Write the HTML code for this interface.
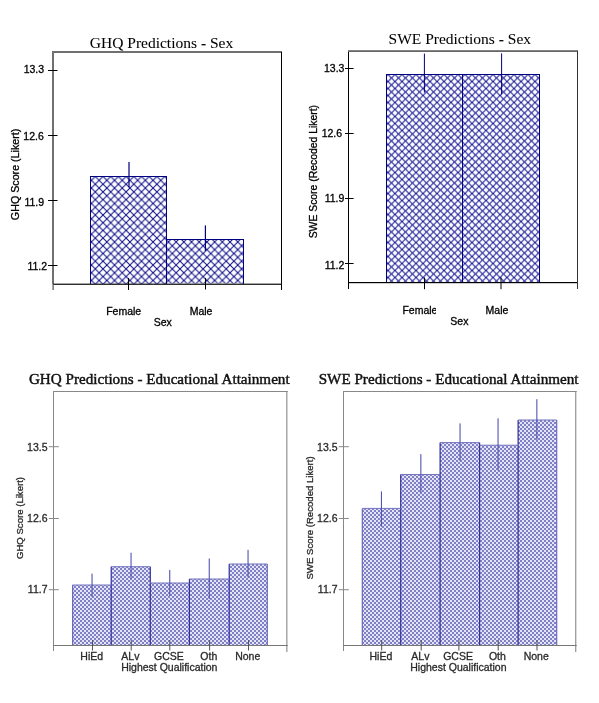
<!DOCTYPE html>
<html><head><meta charset="utf-8"><title>Predictions</title>
<style>html,body{margin:0;padding:0;background:#fff;width:599px;height:703px;overflow:hidden}svg{display:block;will-change:transform}</style>
</head><body><svg width="599" height="703" viewBox="0 0 599 703">
<defs>
 <pattern id="hTL" patternUnits="userSpaceOnUse" width="7.7" height="7.7" patternTransform="translate(103,176.5)">
  <path d="M-1,-1 L8.7,8.7 M8.7,-1 L-1,8.7" stroke="#10108a" stroke-width="1.05" fill="none"/>
 </pattern>
 <pattern id="hTR" patternUnits="userSpaceOnUse" width="7" height="7" patternTransform="translate(395,74.5)">
  <path d="M-1,-1 L8,8 M8,-1 L-1,8" stroke="#1c1c96" stroke-width="1.05" fill="none"/>
 </pattern>
 <pattern id="chk" patternUnits="userSpaceOnUse" width="4" height="4">
  <rect x="0" y="0" width="4" height="4" fill="#e4e4f4"/>
  <rect x="0" y="0" width="2" height="2" fill="#8080c6"/>
  <rect x="2" y="2" width="2" height="2" fill="#8080c6"/>
 </pattern>
</defs><rect width="599" height="703" fill="#fff"/><text x="161.5" y="48" font-family="&quot;Liberation Serif&quot;, serif" font-size="15.5" text-anchor="middle" fill="#000" stroke="#000" stroke-width="0.05" >GHQ Predictions - Sex</text><rect x="90.5" y="176.5" width="76" height="107.5" fill="url(#hTL)"/><rect x="166.5" y="239.5" width="77" height="44" fill="url(#hTL)"/><rect x="90" y="176" width="77" height="1" fill="#000080"/><rect x="90" y="176" width="1" height="108" fill="#000080"/><rect x="166" y="176" width="1" height="108" fill="#000080"/><rect x="166" y="239" width="78" height="1" fill="#000080"/><rect x="243" y="239" width="1" height="45" fill="#000080"/><rect x="128.4" y="162" width="1.2" height="25.4" fill="#000080"/><rect x="204.8" y="225.4" width="1.2" height="25.5" fill="#000080"/><rect x="52" y="51" width="2" height="233" fill="#707070"/><rect x="52" y="51" width="230" height="2" fill="#707070"/><rect x="281" y="52" width="1" height="238" fill="#000"/><rect x="53" y="283.6" width="229" height="1.3" fill="#1a1a1a"/><rect x="52.5" y="284" width="1.2" height="6" fill="#555"/><rect x="128" y="278" width="1" height="12" fill="#000"/><rect x="205" y="278" width="1" height="11.5" fill="#000"/><rect x="48" y="70" width="9.5" height="1" fill="#000"/><rect x="48" y="135" width="9.5" height="1" fill="#000"/><rect x="48" y="200" width="9.5" height="1" fill="#000"/><rect x="48" y="265" width="9.5" height="1" fill="#000"/><text x="44.1" y="73" font-family="&quot;Liberation Sans&quot;, sans-serif" font-size="10.5" text-anchor="end" fill="#000" stroke="#000" stroke-width="0.3" >13.3</text><text x="43.8" y="140" font-family="&quot;Liberation Sans&quot;, sans-serif" font-size="10.5" text-anchor="end" fill="#000" stroke="#000" stroke-width="0.3" >12.6</text><text x="44.1" y="206" font-family="&quot;Liberation Sans&quot;, sans-serif" font-size="10.5" text-anchor="end" fill="#000" stroke="#000" stroke-width="0.3" >11.9</text><text x="47.1" y="270" font-family="&quot;Liberation Sans&quot;, sans-serif" font-size="10.5" text-anchor="end" fill="#000" stroke="#000" stroke-width="0.3" >11.2</text><text x="0" y="0" font-family="&quot;Liberation Sans&quot;, sans-serif" font-size="10.7" text-anchor="middle" fill="#000" stroke="#000" stroke-width="0.3" transform="translate(19,174.4) rotate(-90)">GHQ Score (Likert)</text><text x="123.7" y="314.7" font-family="&quot;Liberation Sans&quot;, sans-serif" font-size="10.5" text-anchor="middle" fill="#000" stroke="#000" stroke-width="0.3" >Female</text><text x="201.1" y="315" font-family="&quot;Liberation Sans&quot;, sans-serif" font-size="10.5" text-anchor="middle" fill="#000" stroke="#000" stroke-width="0.3" >Male</text><text x="162.7" y="326.3" font-family="&quot;Liberation Sans&quot;, sans-serif" font-size="10.5" text-anchor="middle" fill="#000" stroke="#000" stroke-width="0.3" >Sex</text><text x="459.8" y="44" font-family="&quot;Liberation Serif&quot;, serif" font-size="15.5" text-anchor="middle" fill="#000" stroke="#000" stroke-width="0.05" >SWE Predictions - Sex</text><rect x="386.5" y="74.5" width="76" height="207.5" fill="url(#hTR)"/><rect x="462.5" y="74.5" width="76.5" height="207.5" fill="url(#hTR)"/><rect x="386" y="74" width="153" height="1" fill="#000080"/><rect x="386" y="74" width="1" height="208" fill="#000080"/><rect x="462" y="74" width="1" height="208" fill="#000080"/><rect x="539" y="74" width="1" height="208" fill="#000080"/><rect x="423.9" y="53.6" width="1" height="39" fill="#000080"/><rect x="501.1" y="53.4" width="1" height="41" fill="#000080"/><rect x="348" y="51" width="1" height="238" fill="#000"/><rect x="348" y="50.2" width="230" height="1.8" fill="#666"/><rect x="577" y="51" width="1" height="232" fill="#333"/><rect x="348" y="282" width="230" height="1.2" fill="#000"/><rect x="577" y="282" width="1" height="7" fill="#333"/><rect x="424" y="277.5" width="1" height="11.7" fill="#000"/><rect x="500.5" y="277.5" width="1" height="11.7" fill="#000"/><rect x="345" y="68" width="8.6" height="1" fill="#000"/><rect x="345" y="133" width="8.6" height="1" fill="#000"/><rect x="345" y="198" width="8.6" height="1" fill="#000"/><rect x="345" y="263" width="8.6" height="1" fill="#000"/><text x="344.4" y="72" font-family="&quot;Liberation Sans&quot;, sans-serif" font-size="10.5" text-anchor="end" fill="#000" stroke="#000" stroke-width="0.3" >13.3</text><text x="342.1" y="137" font-family="&quot;Liberation Sans&quot;, sans-serif" font-size="10.5" text-anchor="end" fill="#000" stroke="#000" stroke-width="0.3" >12.6</text><text x="344.4" y="202" font-family="&quot;Liberation Sans&quot;, sans-serif" font-size="10.5" text-anchor="end" fill="#000" stroke="#000" stroke-width="0.3" >11.9</text><text x="344.4" y="269" font-family="&quot;Liberation Sans&quot;, sans-serif" font-size="10.5" text-anchor="end" fill="#000" stroke="#000" stroke-width="0.3" >11.2</text><text x="0" y="0" font-family="&quot;Liberation Sans&quot;, sans-serif" font-size="10.4" text-anchor="middle" fill="#000" stroke="#000" stroke-width="0.3" transform="translate(316.5,171.65) rotate(-90)">SWE Score (Recoded Likert)</text><clipPath id="cF"><rect x="395" y="300" width="41" height="20"/></clipPath><text x="419.9" y="313.9" font-family="&quot;Liberation Sans&quot;, sans-serif" font-size="10.5" text-anchor="middle" fill="#000" stroke="#000" stroke-width="0.3" clip-path="url(#cF)">Female</text><text x="497" y="314" font-family="&quot;Liberation Sans&quot;, sans-serif" font-size="10.5" text-anchor="middle" fill="#000" stroke="#000" stroke-width="0.3" >Male</text><text x="459.4" y="324.8" font-family="&quot;Liberation Sans&quot;, sans-serif" font-size="10.5" text-anchor="middle" fill="#000" stroke="#000" stroke-width="0.3" >Sex</text><text x="159.3" y="383.5" font-family="&quot;Liberation Serif&quot;, serif" font-size="15.15" text-anchor="middle" fill="#111" stroke="#111" stroke-width="0.45" >GHQ Predictions - Educational Attainment</text><rect x="72.5" y="585" width="38.6" height="60.5" fill="url(#chk)"/><rect x="111.1" y="566.7" width="39.1" height="78.8" fill="url(#chk)"/><rect x="150.2" y="583" width="39.1" height="62.5" fill="url(#chk)"/><rect x="189.3" y="579" width="39.8" height="66.5" fill="url(#chk)"/><rect x="229.1" y="564" width="38.1" height="81.5" fill="url(#chk)"/><rect x="72" y="585" width="1.2" height="60.5" fill="#6a6abc"/><rect x="110.6" y="566.7" width="1.2" height="78.8" fill="#30309e"/><rect x="149.7" y="566.7" width="1.2" height="78.8" fill="#30309e"/><rect x="188.8" y="579" width="1.2" height="66.5" fill="#30309e"/><rect x="228.6" y="564" width="1.2" height="81.5" fill="#30309e"/><rect x="266.7" y="564" width="1.2" height="81.5" fill="#6a6abc"/><rect x="72.5" y="584.5" width="38.6" height="1" fill="#7474c0"/><rect x="111.1" y="566.2" width="39.1" height="1" fill="#7474c0"/><rect x="150.2" y="582.5" width="39.1" height="1" fill="#7474c0"/><rect x="189.3" y="578.5" width="39.8" height="1" fill="#7474c0"/><rect x="229.1" y="563.5" width="38.1" height="1" fill="#7474c0"/><rect x="91.5" y="573.6" width="1.1" height="23.4" fill="#5454b4"/><rect x="130.5" y="552.7" width="1.1" height="26" fill="#5454b4"/><rect x="169.2" y="570" width="1.1" height="26" fill="#5454b4"/><rect x="208.7" y="558.5" width="1.1" height="40.5" fill="#5454b4"/><rect x="247.5" y="549.8" width="1.1" height="27.6" fill="#5454b4"/><rect x="53" y="391" width="234.8" height="1" fill="#888"/><rect x="53" y="391" width="1" height="260" fill="#888"/><rect x="286.3" y="391" width="1.1" height="261" fill="#888"/><rect x="53" y="645" width="234.8" height="1" fill="#777"/><rect x="92" y="640" width="1" height="10.5" fill="#555"/><rect x="130.7" y="640" width="1" height="10.5" fill="#555"/><rect x="169.3" y="640" width="1" height="10.5" fill="#555"/><rect x="209.1" y="640" width="1" height="10.5" fill="#555"/><rect x="248" y="640" width="1" height="10.5" fill="#555"/><rect x="48.8" y="446.2" width="10" height="1" fill="#888"/><rect x="48.8" y="518" width="10" height="1" fill="#888"/><rect x="48.8" y="589.2" width="10" height="1" fill="#888"/><text x="47.5" y="450.5" font-family="&quot;Liberation Sans&quot;, sans-serif" font-size="10.5" text-anchor="end" fill="#2a2a2a" stroke="#2a2a2a" stroke-width="0.3" >13.5</text><text x="47.5" y="522.1" font-family="&quot;Liberation Sans&quot;, sans-serif" font-size="10.5" text-anchor="end" fill="#2a2a2a" stroke="#2a2a2a" stroke-width="0.3" >12.6</text><text x="47.5" y="593.4" font-family="&quot;Liberation Sans&quot;, sans-serif" font-size="10.5" text-anchor="end" fill="#2a2a2a" stroke="#2a2a2a" stroke-width="0.3" >11.7</text><text x="0" y="0" font-family="&quot;Liberation Sans&quot;, sans-serif" font-size="9.6" text-anchor="middle" fill="#2a2a2a" stroke="#2a2a2a" stroke-width="0.3" transform="translate(23.4,518) rotate(-90)">GHQ Score (Likert)</text><text x="91.7" y="659.7" font-family="&quot;Liberation Sans&quot;, sans-serif" font-size="10.5" text-anchor="middle" fill="#2a2a2a" stroke="#2a2a2a" stroke-width="0.3" >HiEd</text><text x="130.4" y="659.7" font-family="&quot;Liberation Sans&quot;, sans-serif" font-size="10.5" text-anchor="middle" fill="#2a2a2a" stroke="#2a2a2a" stroke-width="0.3" >ALv</text><text x="169" y="659.7" font-family="&quot;Liberation Sans&quot;, sans-serif" font-size="10.5" text-anchor="middle" fill="#2a2a2a" stroke="#2a2a2a" stroke-width="0.3" >GCSE</text><text x="208.8" y="659.7" font-family="&quot;Liberation Sans&quot;, sans-serif" font-size="10.5" text-anchor="middle" fill="#2a2a2a" stroke="#2a2a2a" stroke-width="0.3" >Oth</text><text x="247.7" y="659.7" font-family="&quot;Liberation Sans&quot;, sans-serif" font-size="10.5" text-anchor="middle" fill="#2a2a2a" stroke="#2a2a2a" stroke-width="0.3" >None</text><text x="169.3" y="671" font-family="&quot;Liberation Sans&quot;, sans-serif" font-size="10.5" text-anchor="middle" fill="#2a2a2a" stroke="#2a2a2a" stroke-width="0.3" >Highest Qualification</text><text x="448.65" y="383.5" font-family="&quot;Liberation Serif&quot;, serif" font-size="15.15" text-anchor="middle" fill="#111" stroke="#111" stroke-width="0.45" >SWE Predictions - Educational Attainment</text><rect x="362.2" y="508.4" width="38.4" height="137.1" fill="url(#chk)"/><rect x="400.6" y="474.5" width="39.4" height="171" fill="url(#chk)"/><rect x="440" y="442.6" width="39.5" height="202.9" fill="url(#chk)"/><rect x="479.5" y="445.2" width="38.5" height="200.3" fill="url(#chk)"/><rect x="518" y="420" width="38.6" height="225.5" fill="url(#chk)"/><rect x="361.7" y="508.4" width="1.2" height="137.1" fill="#6a6abc"/><rect x="400.1" y="474.5" width="1.2" height="171" fill="#30309e"/><rect x="439.5" y="442.6" width="1.2" height="202.9" fill="#30309e"/><rect x="479" y="442.6" width="1.2" height="202.9" fill="#30309e"/><rect x="517.5" y="420" width="1.2" height="225.5" fill="#30309e"/><rect x="556.1" y="420" width="1.2" height="225.5" fill="#6a6abc"/><rect x="362.2" y="507.9" width="38.4" height="1" fill="#7474c0"/><rect x="400.6" y="474" width="39.4" height="1" fill="#7474c0"/><rect x="440" y="442.1" width="39.5" height="1" fill="#7474c0"/><rect x="479.5" y="444.7" width="38.5" height="1" fill="#7474c0"/><rect x="518" y="419.5" width="38.6" height="1" fill="#7474c0"/><rect x="380.9" y="491.4" width="1.1" height="35.3" fill="#5454b4"/><rect x="420.3" y="454.1" width="1.1" height="38.9" fill="#5454b4"/><rect x="459.5" y="423.4" width="1.1" height="37.6" fill="#5454b4"/><rect x="497.5" y="418.3" width="1.1" height="52.3" fill="#5454b4"/><rect x="536.3" y="399.2" width="1.1" height="40.6" fill="#5454b4"/><rect x="343" y="391" width="233.7" height="1" fill="#888"/><rect x="343" y="391" width="1" height="260" fill="#888"/><rect x="575.2" y="391" width="1.1" height="261" fill="#888"/><rect x="343" y="645" width="233.7" height="1" fill="#777"/><rect x="381.2" y="640" width="1" height="10.5" fill="#555"/><rect x="420.7" y="640" width="1" height="10.5" fill="#555"/><rect x="458.4" y="640" width="1" height="10.5" fill="#555"/><rect x="497.7" y="640" width="1" height="10.5" fill="#555"/><rect x="536.5" y="640" width="1" height="10.5" fill="#555"/><rect x="338.8" y="446.2" width="10" height="1" fill="#888"/><rect x="338.8" y="518" width="10" height="1" fill="#888"/><rect x="338.8" y="589.2" width="10" height="1" fill="#888"/><text x="337.5" y="450.5" font-family="&quot;Liberation Sans&quot;, sans-serif" font-size="10.5" text-anchor="end" fill="#2a2a2a" stroke="#2a2a2a" stroke-width="0.3" >13.5</text><text x="337.5" y="522.1" font-family="&quot;Liberation Sans&quot;, sans-serif" font-size="10.5" text-anchor="end" fill="#2a2a2a" stroke="#2a2a2a" stroke-width="0.3" >12.6</text><text x="337.5" y="593.4" font-family="&quot;Liberation Sans&quot;, sans-serif" font-size="10.5" text-anchor="end" fill="#2a2a2a" stroke="#2a2a2a" stroke-width="0.3" >11.7</text><text x="0" y="0" font-family="&quot;Liberation Sans&quot;, sans-serif" font-size="9.6" text-anchor="middle" fill="#2a2a2a" stroke="#2a2a2a" stroke-width="0.3" transform="translate(313,517.95) rotate(-90)">SWE Score (Recoded Likert)</text><text x="380.9" y="659.7" font-family="&quot;Liberation Sans&quot;, sans-serif" font-size="10.5" text-anchor="middle" fill="#2a2a2a" stroke="#2a2a2a" stroke-width="0.3" >HiEd</text><text x="420.4" y="659.7" font-family="&quot;Liberation Sans&quot;, sans-serif" font-size="10.5" text-anchor="middle" fill="#2a2a2a" stroke="#2a2a2a" stroke-width="0.3" >ALv</text><text x="458.1" y="659.7" font-family="&quot;Liberation Sans&quot;, sans-serif" font-size="10.5" text-anchor="middle" fill="#2a2a2a" stroke="#2a2a2a" stroke-width="0.3" >GCSE</text><text x="497.4" y="659.7" font-family="&quot;Liberation Sans&quot;, sans-serif" font-size="10.5" text-anchor="middle" fill="#2a2a2a" stroke="#2a2a2a" stroke-width="0.3" >Oth</text><text x="536.2" y="659.7" font-family="&quot;Liberation Sans&quot;, sans-serif" font-size="10.5" text-anchor="middle" fill="#2a2a2a" stroke="#2a2a2a" stroke-width="0.3" >None</text><text x="458.4" y="671" font-family="&quot;Liberation Sans&quot;, sans-serif" font-size="10.5" text-anchor="middle" fill="#2a2a2a" stroke="#2a2a2a" stroke-width="0.3" >Highest Qualification</text></svg></body></html>
